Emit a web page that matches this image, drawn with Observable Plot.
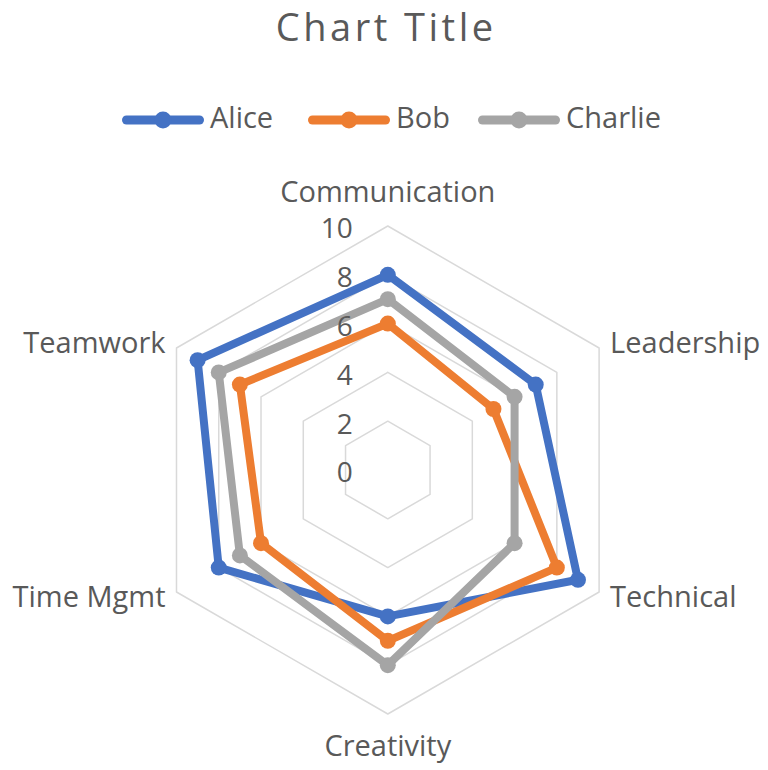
<!DOCTYPE html>
<html>
<head>
<meta charset="utf-8">
<script src="https://cdn.jsdelivr.net/npm/d3@7"></script>
<script src="https://cdn.jsdelivr.net/npm/@observablehq/plot@0.6"></script>
<style>
  html, body { margin: 0; padding: 0; background: #fff; }
  body { font-family: "Open Sans", sans-serif; color: #595959; }
  #wrap { position: relative; width: 768px; height: 770px; overflow: hidden; }
  .leg { position: absolute; top: 102px; display: flex; align-items: center; height: 29px; }
  .leg svg { position: relative; top: 3px; }
  .leg span { font-size: 29px; line-height: 1; margin-left: 6px; white-space: nowrap; }
  #chart { position: absolute; left: 0; top: 0; }
</style>
</head>
<body>
<div id="wrap">
  <div id="chart"></div>
  <div id="legend"></div>
</div>
<script>
// ---- data ----
const titleText = "Chart Title";
const categories = ["Communication", "Leadership", "Technical", "Creativity", "Time Mgmt", "Teamwork"];
const seriesNames = ["Alice", "Bob", "Charlie"];
const alice   = [8, 7, 9, 6, 8, 9];
const bob     = [6, 5, 8, 7, 6, 7];
const charlie = [7, 6, 6, 8, 7, 8];
const seriesColors = ["#4472C4", "#ED7D31", "#A5A5A5"];
const tickValues = [0, 2, 4, 6, 8, 10];
const gridLevels = [2, 4, 6, 8, 10];

// ---- layout constants ----
const W = 768, H = 770;
const cx = 387.3, cy = 469.5, unit = 24.4; // pixel center and px per value unit
const textColor = "#595959";
const font = "Open Sans";

const seriesValues = [alice, bob, charlie];
const n = categories.length;
const angle = i => (i * 2 * Math.PI) / n;

// polygon rows (closed) for each series
const lineRows = [];
const pointRows = [];
seriesNames.forEach((name, s) => {
  for (let i = 0; i <= n; i++) {
    const k = i % n;
    const v = seriesValues[s][k];
    const row = {name, cat: categories[k], value: v, x: v * Math.sin(angle(k)), y: v * Math.cos(angle(k))};
    lineRows.push(row);
    if (i < n) pointRows.push(row);
  }
});

const gridRows = [];
gridLevels.forEach(L => {
  for (let i = 0; i <= n; i++) {
    const k = i % n;
    gridRows.push({level: L, x: L * Math.sin(angle(k)), y: L * Math.cos(angle(k))});
  }
});

// category labels
const labelMarks = categories.map((c, i) => {
  const s = Math.sin(angle(i)), co = Math.cos(angle(i));
  let textAnchor = "middle", dx = 0, dy = 0;
  if (Math.abs(s) < 1e-6) {
    dy = co > 0 ? -33 : 32.5;
  } else {
    textAnchor = s > 0 ? "start" : "end";
    dx = s > 0 ? 11 : -11;
    dy = co > 0 ? -4.5 : 5.5;
  }
  return Plot.text([{cat: c, x: 10 * s, y: 10 * co}], {
    x: "x", y: "y", text: "cat", textAnchor, dx, dy,
    lineAnchor: "middle", fontSize: 29, fill: textColor, fontFamily: font
  });
});

const chart = Plot.plot({
  width: W, height: H,
  marginTop: 0, marginRight: 0, marginBottom: 0, marginLeft: 0,
  x: {domain: [-cx / unit, (W - cx) / unit], axis: null},
  y: {domain: [-(H - cy) / unit, cy / unit], axis: null},
  color: {domain: seriesNames, range: seriesColors},
  style: {fontFamily: font, background: "transparent"},
  marks: [
    Plot.line(gridRows, {x: "x", y: "y", z: "level", stroke: "#D9D9D9", strokeWidth: 1.5}),
    Plot.line(lineRows, {x: "x", y: "y", z: "name", stroke: "name", strokeWidth: 8, strokeLinejoin: "round", strokeLinecap: "round"}),
    Plot.dot(pointRows, {x: "x", y: "y", fill: "name", r: 8, stroke: null}),
    Plot.text(tickValues, {x: () => 0, y: d => d, text: d => String(d), textAnchor: "end", dx: -35, dy: 3.5,
      lineAnchor: "middle", fontSize: 28, fill: textColor, fontFamily: font}),
    ...labelMarks,
    Plot.text([titleText], {frameAnchor: "top", lineAnchor: "bottom", dy: 40.5, dx: 1.7, fontSize: 38,
      fill: textColor, fontFamily: font})
  ]
});
// letter spacing for the title text
d3.select(chart).selectAll("text").filter(function () { return this.textContent === titleText; })
  .attr("letter-spacing", 3.5);
document.getElementById("chart").appendChild(chart);

// legend
const legendLeft = [122, 308, 478];
const legend = document.getElementById("legend");
seriesNames.forEach((name, s) => {
  const item = document.createElement("div");
  item.className = "leg";
  item.style.left = legendLeft[s] + "px";
  const svg = d3.create("svg").attr("width", 82).attr("height", 20);
  svg.append("line").attr("x1", 4.5).attr("x2", 77.5).attr("y1", 10).attr("y2", 10)
    .attr("stroke", seriesColors[s]).attr("stroke-width", 9).attr("stroke-linecap", "round");
  svg.append("circle").attr("cx", 41).attr("cy", 10).attr("r", 8.5).attr("fill", seriesColors[s]);
  item.appendChild(svg.node());
  const span = document.createElement("span");
  span.textContent = name;
  item.appendChild(span);
  legend.appendChild(item);
});
</script>
</body>
</html>
